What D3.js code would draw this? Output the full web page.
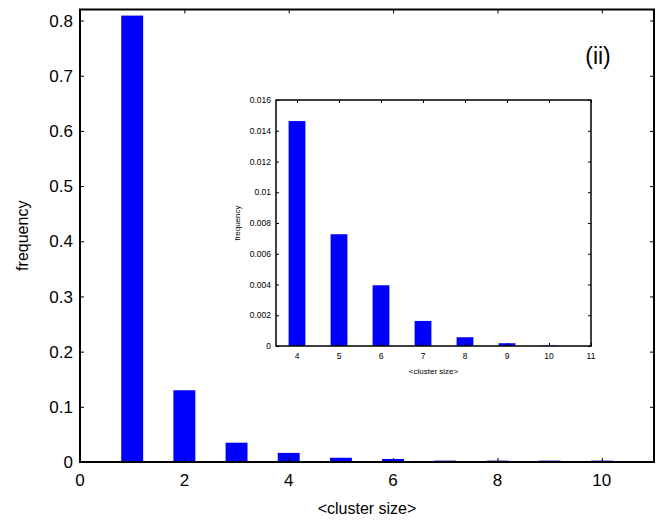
<!DOCTYPE html>
<html><head><meta charset="utf-8">
<script src="https://cdn.jsdelivr.net/npm/d3@7"></script>
<style>body{margin:0;background:#fff}svg{display:block}text{font-family:"Liberation Sans",Arial,sans-serif;fill:#000}</style>
</head><body>
<svg id="c" width="670" height="523"></svg>
<script>
const mainSizes = [1,2,3,4,5,6,7,8,9,10];
const mainFreq = [0.809,0.130,0.035,0.0165,0.0077,0.0055,0.0025,0.0025,0.0025,0.0025];
const mainXTicks = [0,2,4,6,8,10];
const mainYTicks = [0,0.1,0.2,0.3,0.4,0.5,0.6,0.7,0.8];
const insetSizes = [4,5,6,7,8,9,10];
const insetFreq = [0.01463,0.00727,0.00395,0.00163,0.00057,0.00018,0.00003];
const insetXTicks = [4,5,6,7,8,9,10,11];
const insetYTicks = [0,0.002,0.004,0.006,0.008,0.01,0.012,0.014,0.016];
const label = "(ii)";

const svg = d3.select("#c");

function panel(o){
  const g = svg.append("g");
  const x = d3.scaleLinear().domain(o.xd).range([o.l,o.r]);
  const y = d3.scaleLinear().domain(o.yd).range([o.b,o.t]);
  g.append("rect").attr("x",o.l).attr("y",o.t).attr("width",o.r-o.l).attr("height",o.b-o.t).attr("fill","#fff");
  const bw = x(o.bw)-x(0);
  g.selectAll("rect.bar").data(o.xs).join("rect").attr("class","bar")
    .attr("x",d=>x(d)-bw/2).attr("width",bw)
    .attr("y",(d,i)=>y(o.ys[i])).attr("height",(d,i)=>y(0)-y(o.ys[i]))
    .attr("fill","#0000ff");
  const tk = o.tk;
  const ax = (sel)=>sel.call(s=>s.select(".domain").remove()).call(s=>s.selectAll("line").attr("stroke","#000").attr("stroke-width",1));
  g.append("g").attr("transform",`translate(0,${o.b})`).call(d3.axisTop(x).tickValues(o.xt).tickSize(tk).tickFormat("")).call(ax);
  g.append("g").attr("transform",`translate(0,${o.t})`).call(d3.axisBottom(x).tickValues(o.xt).tickSize(tk).tickFormat("")).call(ax);
  g.append("g").attr("transform",`translate(${o.l},0)`).call(d3.axisRight(y).tickValues(o.yt).tickSize(tk).tickFormat("")).call(ax);
  g.append("g").attr("transform",`translate(${o.r},0)`).call(d3.axisLeft(y).tickValues(o.yt).tickSize(tk).tickFormat("")).call(ax);
  g.append("rect").attr("x",o.l).attr("y",o.t).attr("width",o.r-o.l).attr("height",o.b-o.t)
    .attr("fill","none").attr("stroke","#000").attr("stroke-width",o.sw);
  g.selectAll("text.xl").data(o.xt).join("text").attr("class","xl")
    .attr("x",d=>x(d)).attr("y",o.b+o.xly).attr("text-anchor","middle").attr("font-size",o.fs).text(d=>d3.format("")(d));
  g.selectAll("text.yl").data(o.yt).join("text").attr("class","yl")
    .attr("x",o.l-o.ylx).attr("y",d=>y(d)).attr("dy","0.36em").attr("text-anchor","end").attr("font-size",o.fs).text(d=>String(d));
  g.append("text").attr("x",(o.l+o.r)/2+o.xtdx).attr("y",o.xty).attr("text-anchor","middle").attr("font-size",o.tfs).text("<cluster size>");
  g.append("text").attr("transform",`translate(${o.ytx},${(o.t+o.b)/2}) rotate(-90)`).attr("text-anchor","middle").attr("font-size",o.tfs).text("frequency");
}

panel({xd:[0,11],yd:[0,0.82],l:80,r:654,t:9.5,b:462,xs:mainSizes,ys:mainFreq,bw:0.42,
  xt:mainXTicks,yt:mainYTicks,tk:4,sw:2,fs:17,tfs:16,xly:24,ylx:7,xty:514,xtdx:0,ytx:28});

svg.append("text").attr("x",598).attr("y",64).attr("text-anchor","middle")
  .attr("font-family","Lato, 'Open Sans', sans-serif").attr("font-size",23).text(label);

panel({xd:[3.5,11],yd:[0,0.016],l:276,r:591,t:100,b:346,xs:insetSizes,ys:insetFreq,bw:0.4,
  xt:insetXTicks,yt:insetYTicks,tk:3,sw:1.5,fs:8.5,tfs:8,xly:13,ylx:5,xty:374,xtdx:0,ytx:240});
</script>
</body></html>
